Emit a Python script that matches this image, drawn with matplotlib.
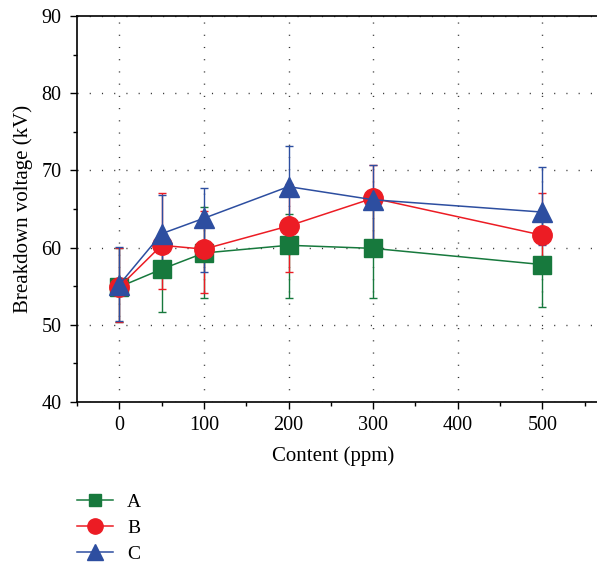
import matplotlib
matplotlib.use("Agg")
import matplotlib.pyplot as plt
import numpy as np
from matplotlib.ticker import MultipleLocator

plt.rcParams['font.family'] = ['Liberation Serif', 'DejaVu Serif']

content = [0, 50, 100, 200, 300, 500]

A_val = [54.9, 57.2, 59.3, 60.3, 59.9, 57.8]
A_low = [50.4, 51.7, 53.5, 53.5, 53.5, 52.3]
A_high = [60.0, 61.7, 65.3, 64.3, 65.0, 63.8]

B_val = [54.9, 60.3, 59.8, 62.8, 66.4, 61.6]
B_low = [50.4, 54.7, 54.1, 56.8, 60.1, 57.7]
B_high = [60.0, 67.1, 64.7, 68.3, 70.7, 67.1]

C_val = [55.2, 61.8, 63.8, 67.9, 66.2, 64.6]
C_low = [50.5, 57.4, 56.9, 61.1, 59.3, 60.4]
C_high = [60.1, 66.8, 67.7, 73.1, 70.7, 70.4]

labels = ["A", "B", "C"]
colors = ["#17793d", "#ec1c24", "#2d4ea0"]
markers = ["s", "o", "^"]
msizes = [12.5, 14, 15]
leg_msizes = [8, 11, 11.5]

fig = plt.figure(figsize=(5.97, 5.67), dpi=100)
ax = fig.add_axes([77/597, 1-402/567, 533/597, (402-16)/567])

series = [(A_val, A_low, A_high), (B_val, B_low, B_high), (C_val, C_low, C_high)]
handles = []
for (v, lo, hi), lab, c, m, ms, lms in zip(series, labels, colors, markers, msizes, leg_msizes):
    v = np.array(v); lo = np.array(lo); hi = np.array(hi)
    yerr = np.vstack([v - lo, hi - v])
    ax.errorbar(content, v, yerr=yerr, color=c, lw=1.1, elinewidth=1.0,
                capsize=3, capthick=1.0, marker=m, markersize=ms,
                markeredgecolor=c, zorder=3)
    h, = ax.plot([], [], color=c, lw=1.1, marker=m, markersize=lms,
                 markeredgecolor=c, label=lab)
    handles.append(h)

ax.set_xlim(-50, 580)
ax.set_ylim(40, 90)
ax.xaxis.set_major_locator(MultipleLocator(100))
ax.xaxis.set_minor_locator(MultipleLocator(50))
ax.yaxis.set_major_locator(MultipleLocator(10))
ax.yaxis.set_minor_locator(MultipleLocator(5))
ax.tick_params(which='major', direction='out', length=5, width=1, labelsize=14.5, color='black')
ax.tick_params(axis='x', which='major', pad=5)
ax.tick_params(axis='y', which='major', pad=6)
ax.tick_params(which='minor', direction='out', length=3, width=1)
ax.grid(True, which='major', color='#333333', lw=1.0, linestyle=(0, (0.8, 8)))
for s in ['left', 'bottom', 'top']:
    ax.spines[s].set_linewidth(1.2)
ax.spines['right'].set_visible(False)

ax.set_xlabel("Content (ppm)", fontsize=15, labelpad=7)
ax.xaxis.set_label_coords(0.481, -0.115)
ax.set_ylabel("Breakdown voltage (kV)", fontsize=15, labelpad=6)

fig.legend(handles=handles, labels=labels, loc='upper left',
           bbox_to_anchor=(0.1005, 1-476/567), frameon=False, fontsize=14,
           handlelength=1.85, handletextpad=0.7, labelspacing=0.42)

fig.savefig("out.png", dpi=100)
